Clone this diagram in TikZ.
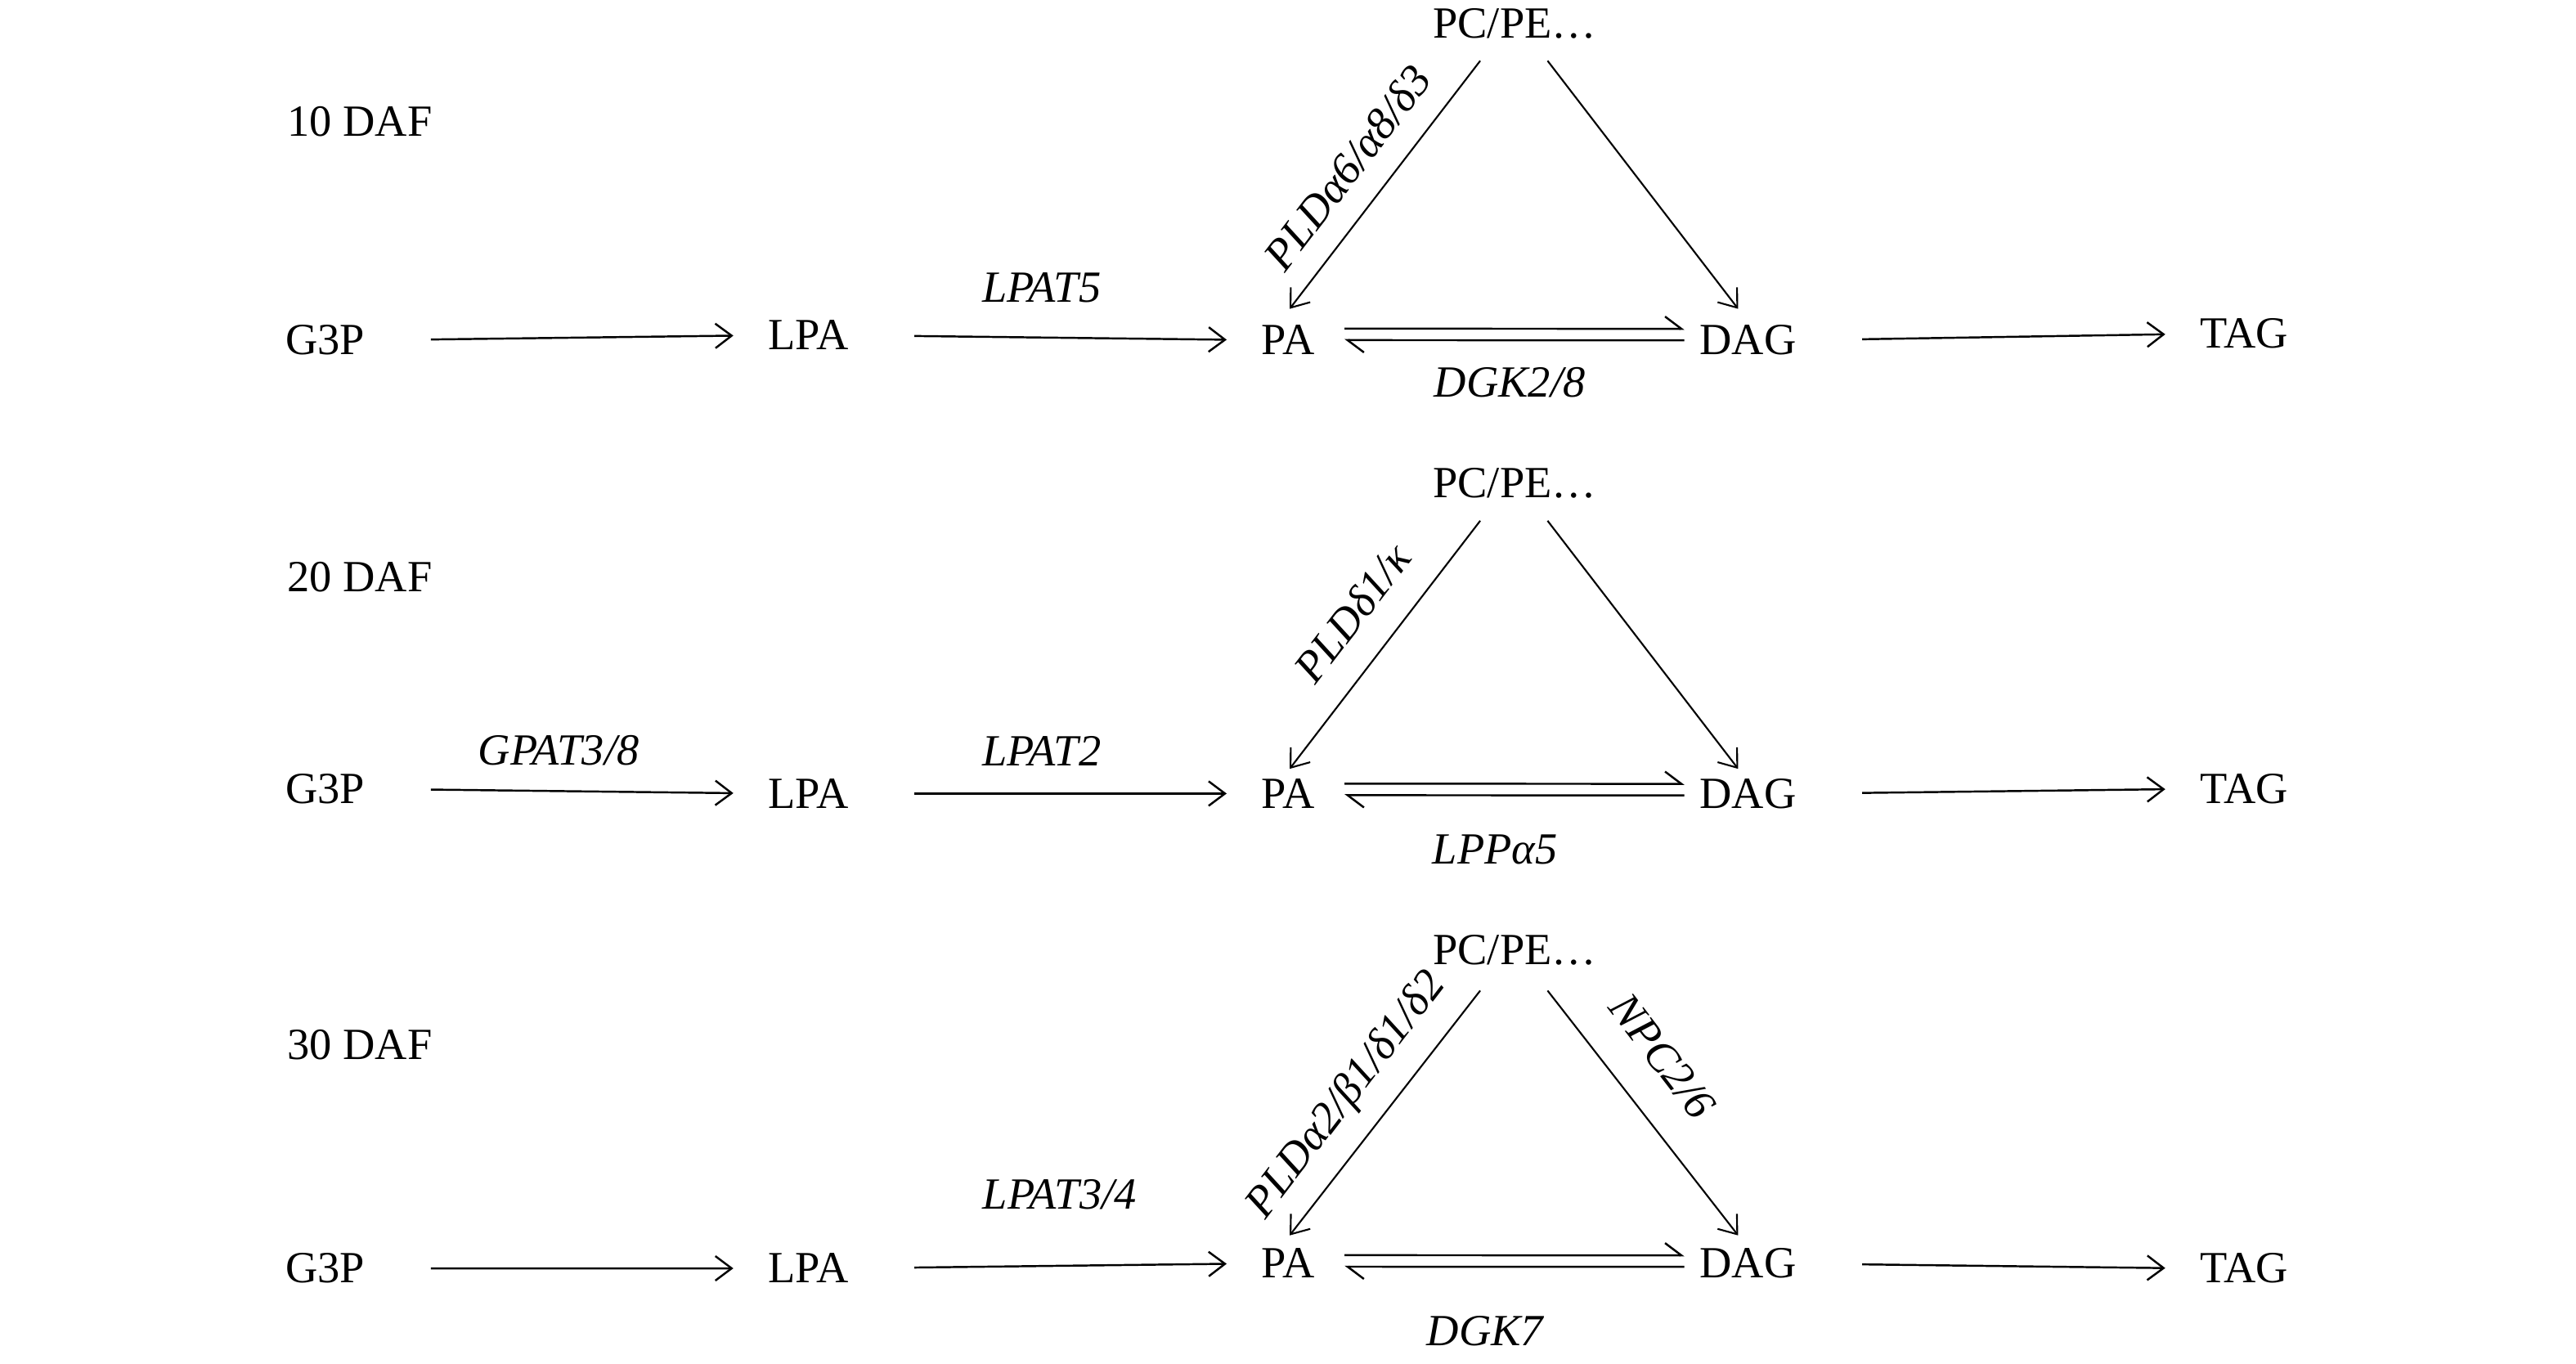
\documentclass[tikz,border=0pt]{standalone}
\usepackage{fontspec}
\setmainfont{Liberation Serif}
\usetikzlibrary{arrows.meta,calc}
\begin{document}
\begin{tikzpicture}[x=0.02009cm,y=-0.02009cm,
  every node/.style={inner sep=0pt, font=\fontsize{15.5}{18}\selectfont},
  met/.style={anchor=base},
  lbl/.style={anchor=center, font=\fontsize{15.5}{18}\selectfont\itshape},
  arr/.style={-{Straight Barb[length=0.2cm,width=0.3cm]}, line width=0.7pt, shorten <=0.8cm, shorten >=0.42cm},
  diag/.style={-{Straight Barb[length=0.2cm,width=0.3cm]}, line width=0.6pt},
  harp/.style={-{Straight Barb[harpoon,length=0.2cm,width=0.3cm]}, line width=0.7pt}
]
\useasboundingbox (0,0) rectangle (1568,830);

% ---------- row 1 ----------
\node[met] (d1) at (219,83) {10 DAF};
\node[met] (g1) at (198,216) {G3P};
\node[met] (l1) at (492,213) {LPA};
\node[met] (pa1) at (784,216) {PA};
\node[met] (dg1) at (1064,216) {DAG};
\node[met] (t1) at (1366,212) {TAG};
\node[met] (pc1) at (922,23) {PC/PE…};
\draw[arr] (g1.east) -- (l1.west);
\draw[arr] (l1.east) -- (pa1.west);
\draw[arr] (dg1.east) -- (t1.west);
\draw[diag] ([shift={(-21,14)}]pc1.base) -- ([shift={(1,-28)}]pa1.base);
\draw[diag] ([shift={(20,14)}]pc1.base) -- ([shift={(-6,-28)}]dg1.base);
\draw[harp] ([shift={(18,-7)}]pa1.east) -- ([shift={(-9,-7)}]dg1.west);
\draw[harp] ([shift={(-9,0)}]dg1.west) -- ([shift={(18,0)}]pa1.east);
\node[lbl] (e11) at (634,175) {LPAT5};
\node[lbl] (e12) at (919,233) {DGK2/8};
\node[lbl, rotate=52.5] (e13) at (820,102) {PLDα6/α8/δ3};

% ---------- row 2 ----------
\node[met] (d2) at (219,360) {20 DAF};
\node[met] (g2) at (198,489) {G3P};
\node[met] (l2) at (492,492) {LPA};
\node[met] (pa2) at (784,492) {PA};
\node[met] (dg2) at (1064,492) {DAG};
\node[met] (t2) at (1366,489) {TAG};
\node[met] (pc2) at (922,303) {PC/PE…};
\draw[arr] (g2.east) -- (l2.west);
\draw[arr] (l2.east) -- (pa2.west);
\draw[arr] (dg2.east) -- (t2.west);
\draw[diag] ([shift={(-21,14)}]pc2.base) -- ([shift={(1,-24)}]pa2.base);
\draw[diag] ([shift={(20,14)}]pc2.base) -- ([shift={(-6,-24)}]dg2.base);
\draw[harp] ([shift={(18,-6)}]pa2.east) -- ([shift={(-9,-6)}]dg2.west);
\draw[harp] ([shift={(-9,1)}]dg2.west) -- ([shift={(18,1)}]pa2.east);
\node[lbl] (e21) at (340,457) {GPAT3/8};
\node[lbl] (e22) at (634,457) {LPAT2};
\node[lbl] (e23) at (910,517) {LPPα5};
\node[lbl, rotate=52.5] (e24) at (823,373) {PLDδ1/κ};

% ---------- row 3 ----------
\node[met] (d3) at (219,645) {30 DAF};
\node[met] (g3) at (198,781) {G3P};
\node[met] (l3) at (492,781) {LPA};
\node[met] (pa3) at (784,778) {PA};
\node[met] (dg3) at (1064,778) {DAG};
\node[met] (t3) at (1366,781) {TAG};
\node[met] (pc3) at (922,587) {PC/PE…};
\draw[arr] (g3.east) -- (l3.west);
\draw[arr] (l3.east) -- (pa3.west);
\draw[arr] (dg3.east) -- (t3.west);
\draw[diag] ([shift={(-21,16)}]pc3.base) -- ([shift={(1,-26)}]pa3.base);
\draw[diag] ([shift={(20,16)}]pc3.base) -- ([shift={(-6,-26)}]dg3.base);
\draw[harp] ([shift={(18,-5)}]pa3.east) -- ([shift={(-9,-5)}]dg3.west);
\draw[harp] ([shift={(-9,2)}]dg3.west) -- ([shift={(18,2)}]pa3.east);
\node[lbl] (e31) at (645,727) {LPAT3/4};
\node[lbl] (e32) at (904,810) {DGK7};
\node[lbl, rotate=52.5] (e33) at (820,667) {PLDα2/β1/δ1/δ2};
\node[lbl, rotate=-52.5] (e34) at (1012,643) {NPC2/6};
\end{tikzpicture}
\end{document}
